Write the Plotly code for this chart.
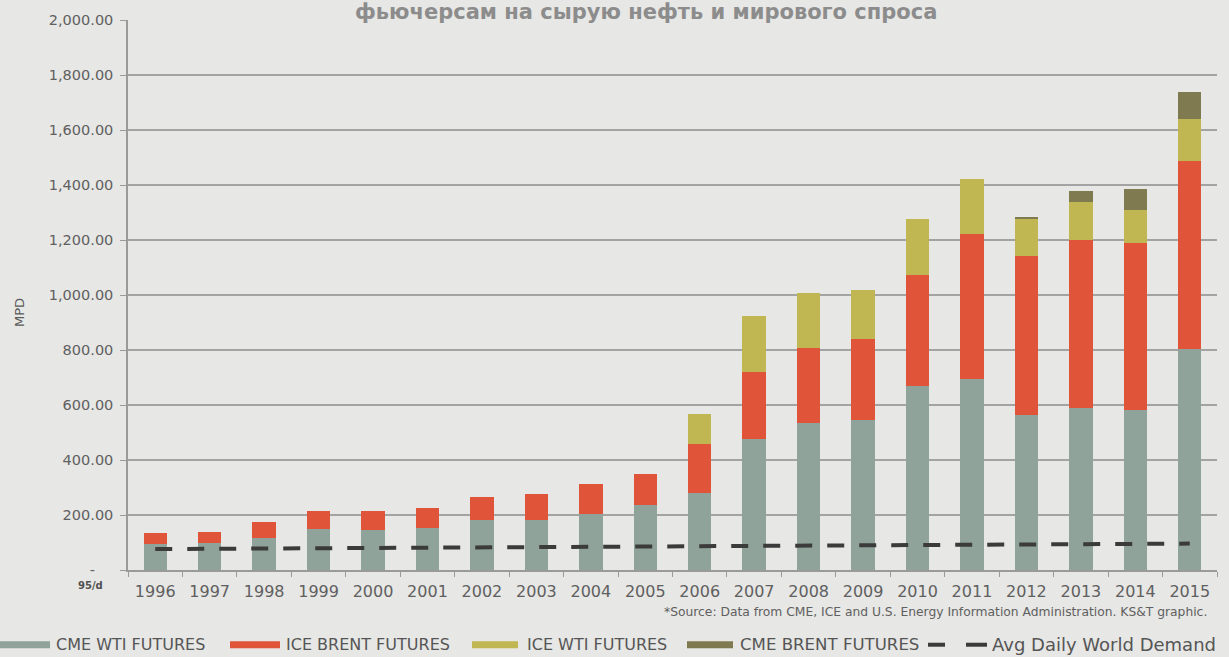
import plotly.graph_objects as go

# ---- data ----
years = list(range(1996, 2016))
cme_wti = [93, 98, 118, 149, 145, 151, 181, 181, 205, 237, 279, 478, 533, 545, 670, 694, 563, 590, 581, 802]
ice_brent = [42, 41, 57, 65, 69, 73, 85, 97, 107, 113, 178, 242, 273, 295, 401, 528, 579, 610, 608, 686]
ice_wti = [0, 0, 0, 0, 0, 0, 0, 0, 0, 0, 112, 205, 202, 180, 206, 200, 135, 139, 120, 151]
cme_brent = [0, 0, 0, 0, 0, 0, 0, 0, 0, 0, 0, 0, 0, 0, 0, 0, 5, 38, 76, 99]
world_demand = [76, 77, 78, 79, 80, 80, 81, 82, 85, 86, 87, 88, 88, 89, 90, 91, 92, 93, 95, 96]

series_names = ["CME WTI FUTURES", "ICE BRENT FUTURES", "ICE WTI FUTURES", "CME BRENT FUTURES"]
line_name = "Avg Daily World Demand"
y_ticks = [0, 200, 400, 600, 800, 1000, 1200, 1400, 1600, 1800, 2000]
title_text = "фьючерсам на сырую нефть и мирового спроса"
source_text = "*Source: Data from CME, ICE and U.S. Energy Information Administration. KS&T graphic."

# ---- style ----
colors = ["#8fa39b", "#e0553a", "#c1b752", "#7f7a4f"]
line_color = "#3b3b3b"
bg = "#e7e7e5"
txt = "#5a5a5a"
FONT = "DejaVu Sans"

W, H = 1229, 657
L, R, T, B = 128, 1217, 18, 570

def px2x(px):
    return (px - L) / (R - L)

def py2y(py):
    return (B - py) / (B - T)

fig = go.Figure()
for name, vals, col in zip(series_names, [cme_wti, ice_brent, ice_wti, cme_brent], colors):
    fig.add_trace(go.Bar(x=years, y=vals, name=name, marker=dict(color=col, line=dict(width=0)),
                         width=0.43, showlegend=False))

fig.add_trace(go.Scatter(x=years, y=world_demand, mode="lines", name=line_name,
                         line=dict(color=line_color, width=4, dash="17px,15px"), showlegend=False))

ytext = []
for v in y_ticks:
    ytext.append("-\u2007\u2007" if v == 0 else f"{v:,.2f}")

fig.update_layout(
    width=W, height=H,
    margin=dict(l=L, r=W - R, t=T, b=H - B),
    paper_bgcolor=bg, plot_bgcolor=bg,
    barmode="stack", bargap=0.5,
    font=dict(family=FONT, color=txt),
    xaxis=dict(range=[1995.5, 2015.5], tickvals=years, ticktext=[str(y) for y in years],
               tickfont=dict(size=16, color="#606060"), showgrid=False, zeroline=False,
               showline=True, linecolor="#9a9a9a", linewidth=1.5, ticks="", ticklabelstandoff=6,
               minor=dict(tick0=1995.5, dtick=1, ticks="outside", ticklen=5, tickcolor="#9a9a9a", tickwidth=1.2)),
    yaxis=dict(range=[0, 2000], tickvals=y_ticks, ticktext=ytext, tickfont=dict(size=14.5, color="#606060"),
               showgrid=True, gridcolor="#a3a3a3", gridwidth=1.5, zeroline=False,
               showline=True, linecolor="#9a9a9a", linewidth=1.5,
               ticks="outside", ticklen=6, tickcolor="#9a9a9a", ticklabelstandoff=4),
)

anns = []
# title (second line of the original heading)
anns.append(dict(text=f"<b>{title_text}</b>", x=px2x(646), y=py2y(10), xref="paper", yref="paper",
                 showarrow=False, xanchor="center", yanchor="middle",
                 font=dict(family="DejaVu Sans", size=21, color="#8c8c8c")))
# y axis title
anns.append(dict(text="MPD", x=px2x(20), y=py2y(312), xref="paper", yref="paper", showarrow=False,
                 textangle=-90, xanchor="center", yanchor="middle", font=dict(size=13, color=txt)))
# unit label under zero
anns.append(dict(text="<b>95/d</b>", x=px2x(90), y=py2y(586), xref="paper", yref="paper", showarrow=False,
                 xanchor="center", yanchor="middle", font=dict(size=10, color="#505050")))
# source note
anns.append(dict(text=source_text, x=px2x(1209), y=py2y(612), xref="paper", yref="paper", showarrow=False,
                 xanchor="right", yanchor="middle", font=dict(size=12.3, color="#606060")))

# custom legend
leg_y = py2y(645)
swatches = [(0, 50, 54), (230, 280, 284), (472, 518, 525), (687, 733, 738)]
leg_sizes = [16, 16, 16, 16.6]
shapes = []
for (x0, x1, tx), name, col, fs in zip(swatches, series_names, colors, leg_sizes):
    shapes.append(dict(type="line", xref="paper", yref="paper", x0=px2x(x0), x1=px2x(x1), y0=leg_y, y1=leg_y,
                       line=dict(color=col, width=7)))
    anns.append(dict(text=name, x=px2x(tx), y=leg_y, xref="paper", yref="paper", showarrow=False,
                     xanchor="left", yanchor="middle", font=dict(size=fs, color="#555555")))
for a, b in [(928, 945), (966, 987)]:
    shapes.append(dict(type="line", xref="paper", yref="paper", x0=px2x(a), x1=px2x(b), y0=leg_y, y1=leg_y,
                       line=dict(color=line_color, width=4)))
anns.append(dict(text=line_name, x=px2x(990), y=leg_y, xref="paper", yref="paper", showarrow=False,
                 xanchor="left", yanchor="middle", font=dict(size=18, color="#555555")))

fig.update_layout(annotations=anns, shapes=shapes)
fig.write_html("out.html")
